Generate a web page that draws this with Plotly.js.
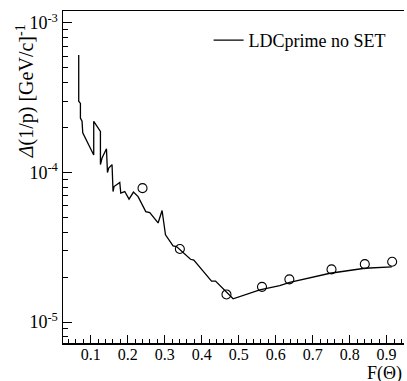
<!DOCTYPE html>
<html>
<head>
<meta charset="utf-8">
<script src="https://cdn.plot.ly/plotly-3.0.1.min.js"></script>
<style>html,body{margin:0;padding:0;background:#fff}#plot{width:407px;height:381px}</style>
</head>
<body>
<div id="plot"></div>
<script>
// LDCprime no SET curve
const lineX = [0.0675,0.0675,0.0721,0.0721,0.0765,0.0784,0.1081,0.1081,0.1262,0.1262,0.1306,0.1425,0.1452,0.1487,0.1576,0.1603,0.1630,0.1785,0.1812,0.1920,0.2036,0.2155,0.2280,0.2488,0.2596,0.2821,0.2929,0.3021,0.3227,0.3319,0.3698,0.3787,0.4266,0.4374,0.4850,0.5570,0.6110,0.6380,0.7470,0.8410,0.9140];
const lineY = [6.1e-4,3.0e-4,2.9e-4,2.31e-4,2.2e-4,1.84e-4,1.31e-4,2.2e-4,1.88e-4,1.13e-4,1.25e-4,1.44e-4,1.0e-4,1.07e-4,1.13e-4,7.46e-5,8.06e-5,8.57e-5,7.28e-5,7.46e-5,6.64e-5,7.4e-5,6.9e-5,5.48e-5,5.4e-5,4.6e-5,5.57e-5,3.83e-5,3.23e-5,3.2e-5,2.63e-5,2.6e-5,1.88e-5,1.88e-5,1.43e-5,1.64e-5,1.75e-5,1.84e-5,2.12e-5,2.29e-5,2.34e-5];
// open-circle points
const ptX = [0.240,0.341,0.467,0.563,0.637,0.751,0.841,0.915];
const ptY = [7.86e-5,3.08e-5,1.53e-5,1.72e-5,1.93e-5,2.25e-5,2.44e-5,2.53e-5];
// tick labels
const yTickVals = [1e-5,1e-4,1e-3];
const yTickText = ['10<sup>-5</sup>','10<sup>-4</sup>','10<sup>-3</sup>'];
const xTickVals = [0.1,0.2,0.3,0.4,0.5,0.6,0.7,0.8,0.9];
const xTickText = ['0.1','0.2','0.3','0.4','0.5','0.6','0.7','0.8','0.9'];

const yMinor = [];
[1e-6,1e-5,1e-4,1e-3].forEach(d=>{for(let k=2;k<=9;k++){yMinor.push(k*d);}});

const font = 'Liberation Serif';

const traces = [
  {x: lineX, y: lineY, type:'scatter', mode:'lines', name:'LDCprime no SET',
   line:{color:'#000', width:1.3}, showlegend:true},
  {x: ptX, y: ptY, type:'scatter', mode:'markers', name:'pts', showlegend:false,
   marker:{symbol:'circle-open', size:9, color:'#000', line:{width:1.1, color:'#000'}}}
];

const layout = {
  width:407, height:381,
  margin:{l:63, r:3, t:11, b:38},
  paper_bgcolor:'#fff', plot_bgcolor:'#fff',
  font:{family:font, size:16, color:'#000'},
  showlegend:true,
  legend:{x:0.427, y:0.967, xanchor:'left', yanchor:'top', bgcolor:'rgba(0,0,0,0)',
          font:{family:font, size:18, color:'#000'}},
  xaxis:{range:[0.025,0.947], tickmode:'array', tickvals:xTickVals, ticktext:xTickText,
         ticks:'inside', ticklen:8, tickwidth:1, tickcolor:'#000', ticklabelstandoff:-4,
         showline:true, linecolor:'#000', linewidth:1.5, mirror:true,
         showgrid:false, zeroline:false,
         tickfont:{family:font, size:16, color:'#000'},
         minor:{dtick:0.02, tick0:0, ticks:'inside', ticklen:4, tickwidth:1, tickcolor:'#000', showgrid:false}},
  yaxis:{type:'log', range:[-5.14,-2.92], tickmode:'array', tickvals:yTickVals, ticktext:yTickText,
         ticks:'inside', ticklen:9, tickwidth:1, tickcolor:'#000',
         showline:true, linecolor:'#000', linewidth:1.5,
         showgrid:false, zeroline:false,
         tickfont:{family:font, size:18, color:'#000'},
         minor:{tickmode:'array', tickvals:yMinor, ticks:'inside', ticklen:5, tickwidth:1, tickcolor:'#000', showgrid:false}},
  annotations:[
    {text:'<i>Δ</i>(1/p) [GeV/c]<sup>-1</sup>', xref:'paper', yref:'paper', x:-0.11, y:0.76,
     xanchor:'center', yanchor:'middle', textangle:-90, showarrow:false,
     font:{family:font, size:20, color:'#000'}},
    {text:'F(Θ)', xref:'paper', yref:'paper', x:1.0, y:-0.091, xanchor:'right', yanchor:'middle',
     showarrow:false, font:{family:font, size:18, color:'#000'}}
  ]
};

Plotly.newPlot('plot', traces, layout, {displayModeBar:false, staticPlot:true});
</script>
</body>
</html>
